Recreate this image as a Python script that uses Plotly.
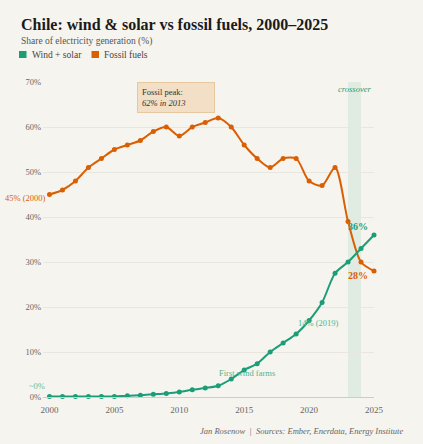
import plotly.graph_objects as go

years = list(range(2000, 2026))
fossil = [45, 46, 48, 51, 53, 55, 56, 57, 59, 60, 58, 60, 61, 62,
          60, 56, 53, 51, 53, 53, 48, 47, 51, 39, 30, 28]
wind_solar = [0.1, 0.1, 0.1, 0.1, 0.1, 0.1, 0.3, 0.4, 0.6, 0.8, 1.1, 1.6, 2.0, 2.5,
              4, 6, 7.4, 10, 12, 14, 17, 21, 27.5, 30, 33, 36]
y_ticks = [0, 10, 20, 30, 40, 50, 60, 70]
x_ticks = [2000, 2005, 2010, 2015, 2020, 2025]

GREEN = "#1b9e77"
ORANGE = "#d95f02"
BG = "#f6f4ef"
SERIF = "Liberation Serif, Georgia, serif"

fig = go.Figure()

# crossover band
fig.add_shape(type="rect", x0=2023, x1=2024, y0=0, y1=70, xref="x", yref="y",
              fillcolor="rgba(27,158,119,0.10)", line_width=0, layer="below")

fig.add_trace(go.Scatter(x=years, y=fossil, mode="lines+markers", name="Fossil fuels",
                         line=dict(color=ORANGE, width=2, shape="spline", smoothing=0.8),
                         marker=dict(size=5, color=ORANGE), showlegend=False, cliponaxis=False))
fig.add_trace(go.Scatter(x=years, y=wind_solar, mode="lines+markers", name="Wind + solar",
                         line=dict(color=GREEN, width=2, shape="spline", smoothing=0.8),
                         marker=dict(size=5, color=GREEN), showlegend=False, cliponaxis=False))

# plot area in pixels: left 43, right 374, top 82, bottom 397
W, H = 423, 444
L, R, T, B = 43, 49, 82, 47
pw = W - L - R
ph = H - T - B

def px(x):
    return (x - L) / pw

def py(y):
    return (H - B - y) / ph

annotations = []

# title, subtitle
annotations.append(dict(text="<b>Chile: wind &amp; solar vs fossil fuels, 2000–2025</b>",
                        x=px(19), y=py(25), xref="paper", yref="paper", xanchor="left",
                        yanchor="middle", showarrow=False,
                        font=dict(family=SERIF, size=16, color="#1a1a1a")))
annotations.append(dict(text="Share of electricity generation (%)",
                        x=px(19), y=py(41), xref="paper", yref="paper", xanchor="left",
                        yanchor="middle", showarrow=False,
                        font=dict(family=SERIF, size=9.5, color="#555")))

# legend
fig.add_shape(type="rect", xref="paper", yref="paper", x0=px(19), x1=px(26.5),
              y0=py(58), y1=py(51), fillcolor=GREEN, line_width=0)
fig.add_shape(type="rect", xref="paper", yref="paper", x0=px(91.5), x1=px(99),
              y0=py(58), y1=py(51), fillcolor=ORANGE, line_width=0)
annotations.append(dict(text="Wind + solar", x=px(30), y=py(54.5), xref="paper", yref="paper",
                        xanchor="left", yanchor="middle", showarrow=False,
                        font=dict(family=SERIF, size=9.5, color="#444")))
annotations.append(dict(text="Fossil fuels", x=px(102), y=py(54.5), xref="paper", yref="paper",
                        xanchor="left", yanchor="middle", showarrow=False,
                        font=dict(family=SERIF, size=9.5, color="#444")))

# peak box
annotations.append(dict(text="Fossil peak:<br><i>62% in 2013</i>", x=2006.75, y=70,
                        xref="x", yref="y", xanchor="left", yanchor="top", showarrow=False,
                        align="left", valign="middle", width=68, height=21, borderpad=4,
                        bgcolor="#f2dfc5", bordercolor="#e6c79e", borderwidth=1,
                        font=dict(family=SERIF, size=8.5, color="#333")))

annotations.append(dict(text="<i>crossover</i>", x=2023.5, y=68.4, xref="x", yref="y",
                        showarrow=False, font=dict(family=SERIF, size=8.5, color=GREEN)))
annotations.append(dict(text="45% (2000)", x=2000, y=fossil[0] - 0.8, xref="x", yref="y",
                        xanchor="right", xshift=-1, showarrow=False,
                        font=dict(family=SERIF, size=8.5, color=ORANGE)))
annotations.append(dict(text="~0%", x=2000, y=2.4, xref="x", yref="y",
                        xanchor="right", xshift=-2, showarrow=False,
                        font=dict(family=SERIF, size=8.5, color="#5fbf9c")))
annotations.append(dict(text="First wind farms", x=2015.2, y=5.4, xref="x", yref="y",
                        showarrow=False, font=dict(family=SERIF, size=8.5, color="#4fb58f")))
annotations.append(dict(text="14% (2019)", x=2019, y=16.4, xref="x", yref="y",
                        xanchor="left", showarrow=False,
                        font=dict(family=SERIF, size=8.5, color="#4fb58f")))
annotations.append(dict(text="<b>36%</b>", x=2023.8, y=38, xref="x", yref="y",
                        showarrow=False, font=dict(family=SERIF, size=10, color=GREEN)))
annotations.append(dict(text="<b>28%</b>", x=2023.8, y=27.1, xref="x", yref="y",
                        showarrow=False, font=dict(family=SERIF, size=10, color=ORANGE)))

# footer
annotations.append(dict(text="<i>Jan Rosenow  |  Sources: Ember, Enerdata, Energy Institute</i>",
                        x=px(405), y=py(430.7), xref="paper", yref="paper", xanchor="right",
                        yanchor="middle", showarrow=False,
                        font=dict(family=SERIF, size=8.5, color="#666")))

fig.update_layout(
    width=W, height=H,
    margin=dict(l=L, r=R, t=T, b=B),
    paper_bgcolor=BG, plot_bgcolor=BG,
    showlegend=False,
    annotations=annotations,
    xaxis=dict(range=[1999.5, 2025], tickvals=x_ticks, showgrid=False, zeroline=False,
               showline=True, linecolor="#cccccc", linewidth=1, ticks="",
               tickfont=dict(family=SERIF, size=9, color="#666"), ticklabelstandoff=4),
    yaxis=dict(range=[0, 70], tickvals=y_ticks, ticktext=[f"{v}%" for v in y_ticks],
               showgrid=True, gridcolor="#e9e6df", gridwidth=1, zeroline=False,
               showline=False, ticks="", ticklabelstandoff=1,
               tickfont=dict(family=SERIF, size=8.5, color="#666")),
)

# page margin off so the figure sits at the window's corner
fig.write_html("out.html", config={"displayModeBar": False},
               post_script="document.body.style.margin='0';")
